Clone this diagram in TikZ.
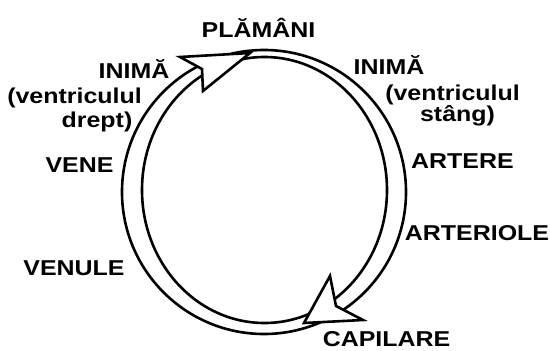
\documentclass[tikz,border=0pt]{standalone}
\usepackage{fontspec}
\setmainfont[FakeStretch=1.16]{Liberation Sans}
\usepackage{tikz}
\usetikzlibrary{positioning}
\tikzset{
  lbl/.style={font=\bfseries\fontsize{21.5}{25}\selectfont, inner sep=0pt, anchor=base},
  ring/.style={draw, line width=2.6pt},
  head/.style={draw, fill=white, line width=2.6pt, line join=miter}
}
\begin{document}
\begin{tikzpicture}[x=1pt,y=-1pt]
  \useasboundingbox (0,0) rectangle (550,351);
  \draw[ring] (264,192) circle [radius=142];
  \draw[ring] (264.5,190) ellipse [x radius=122.5, y radius=133];
  \filldraw[head] (250,53) -- (180,57) -- (202,69) -- (203,91) -- cycle;
  \filldraw[head] (304,323) -- (330,276) -- (336,306) -- (363,320) -- cycle;
  \node[lbl] (plamani) at (258.5,37) {PLĂMÂNI};
  \node[lbl] (inimaL) at (134,78) {INIMĂ};
  \node[lbl] (ventrL) at (74.5,103) {(ventriculul};
  \node[lbl] (dreptL) at (97,127) {drept)};
  \node[lbl] (vene) at (79.5,172) {VENE};
  \node[lbl] (venule) at (74,275) {VENULE};
  \node[lbl] (inimaR) at (389,74) {INIMĂ};
  \node[lbl] (ventrR) at (452.5,100) {(ventriculul};
  \node[lbl] (stang) at (457.5,121) {stâng)};
  \node[lbl] (artere) at (462.5,168) {ARTERE};
  \node[lbl] (arteriole) at (477,240) {ARTERIOLE};
  \node[lbl] (capilare) at (386.5,346.5) {CAPILARE};
\end{tikzpicture}
\end{document}
